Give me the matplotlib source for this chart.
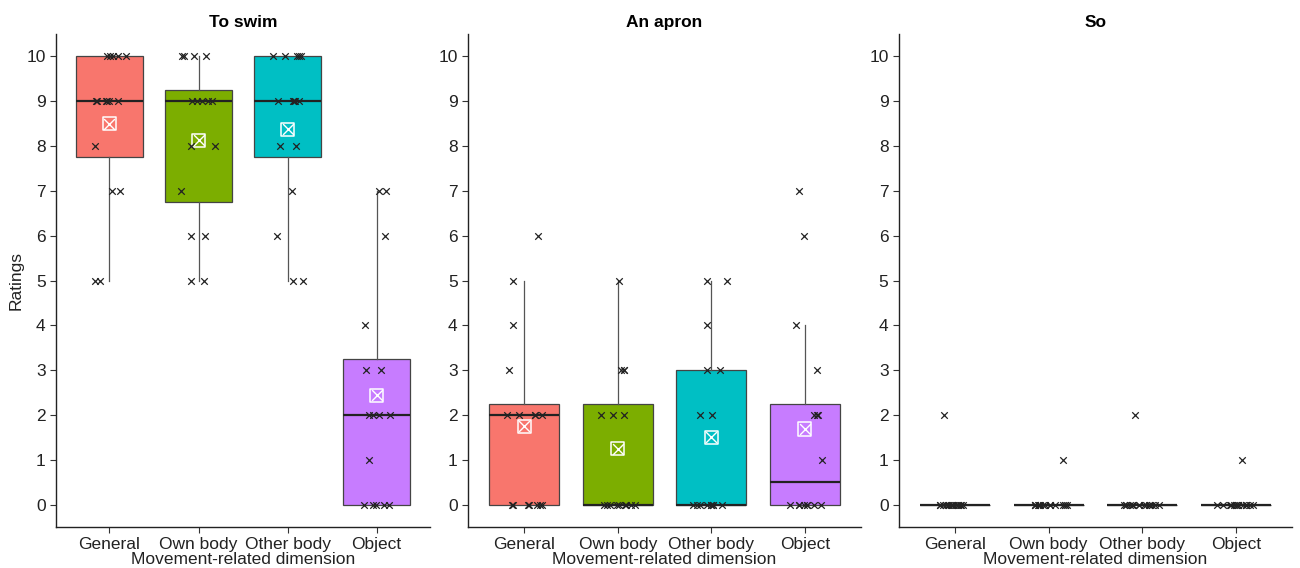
import matplotlib
matplotlib.use('Agg')
import matplotlib.pyplot as plt
import numpy as np

plt.rcParams['font.family'] = ['Liberation Sans', 'DejaVu Sans']

categories = ['General', 'Own body', 'Other body', 'Object']
colors = ['#F8766D', '#7CAE00', '#00BFC4', '#C77CFF']
titles = ['To swim', 'An apron', 'So']

# ratings per participant (n = 16)
swim_general = [5, 5, 7, 7, 8, 9, 9, 9, 9, 9, 9, 10, 10, 10, 10, 10]
swim_own = [5, 5, 6, 6, 7, 8, 8, 9, 9, 9, 9, 9, 10, 10, 10, 10]
swim_other = [5, 5, 6, 7, 8, 8, 9, 9, 9, 9, 9, 10, 10, 10, 10, 10]
swim_object = [0, 0, 0, 0, 0, 1, 2, 2, 2, 2, 3, 3, 4, 6, 7, 7]

apron_general = [0, 0, 0, 0, 0, 0, 0, 2, 2, 2, 2, 2, 3, 4, 5, 6]
apron_own = [0, 0, 0, 0, 0, 0, 0, 0, 0, 2, 2, 2, 3, 3, 3, 5]
apron_other = [0, 0, 0, 0, 0, 0, 0, 0, 0, 2, 2, 3, 3, 4, 5, 5]
apron_object = [0, 0, 0, 0, 0, 0, 0, 0, 1, 2, 2, 2, 3, 4, 6, 7]

so_general = [0] * 15 + [2]
so_own = [0] * 15 + [1]
so_other = [0] * 15 + [2]
so_object = [0] * 15 + [1]

panels = [
    [swim_general, swim_own, swim_other, swim_object],
    [apron_general, apron_own, apron_other, apron_object],
    [so_general, so_own, so_other, so_object],
]

# panel positions in figure fractions
axes_rects = [
    [0.0431, 0.0722, 0.2877, 0.8679],
    [0.3600, 0.0722, 0.3023, 0.8679],
    [0.6915, 0.0722, 0.3023, 0.8679],
]

fig = plt.figure(figsize=(13, 5.68), dpi=100)
rng = np.random.default_rng(3)  # horizontal jitter only

for p, (groups, title, rect) in enumerate(zip(panels, titles, axes_rects)):
    ax = fig.add_axes(rect)
    positions = np.arange(1, len(categories) + 1)
    bp = ax.boxplot(groups, positions=positions, widths=0.75, patch_artist=True,
                    whis=1.5, showfliers=False, showcaps=False,
                    medianprops=dict(color='#222222', linewidth=1.6, zorder=3),
                    whiskerprops=dict(color='#555555', linewidth=0.9),
                    boxprops=dict(edgecolor='#444444', linewidth=0.9))
    for patch, c in zip(bp['boxes'], colors):
        patch.set_facecolor(c)

    for i, vals in enumerate(groups):
        vals = np.array(vals, dtype=float)
        jit = rng.uniform(-0.2, 0.2, len(vals))
        ax.scatter(positions[i] + jit, vals, marker='x', s=22, color='#222222',
                   linewidths=0.9, zorder=4)
        m = vals.mean()
        ax.scatter([positions[i]], [m], marker='s', s=90, facecolors='none',
                   edgecolors='white', linewidths=1.1, zorder=2.5)
        ax.scatter([positions[i]], [m], marker='x', s=60, color='white',
                   linewidths=1.0, zorder=2.5)

    ax.set_xlim(0.4, 4.6)
    ax.set_ylim(-0.5, 10.5)
    ax.set_yticks(range(0, 11))
    ax.set_xticks(positions)
    ax.set_xticklabels(categories)
    ax.tick_params(axis='both', labelsize=12.5, colors='#333333', length=4,
                   labelcolor='#222222')
    for s in ['top', 'right']:
        ax.spines[s].set_visible(False)
    for s in ['left', 'bottom']:
        ax.spines[s].set_color('#222222')
        ax.spines[s].set_linewidth(1.0)
    ax.set_title(title, fontsize=12.5, fontweight='bold', pad=5)
    ax.set_xlabel('Movement-related dimension', fontsize=12.5, labelpad=0,
                  color='#222222')
    if p == 0:
        ax.set_ylabel('Ratings', fontsize=12.5, color='#222222', labelpad=2)

fig.savefig('out.png', dpi=100)
plt.close(fig)
